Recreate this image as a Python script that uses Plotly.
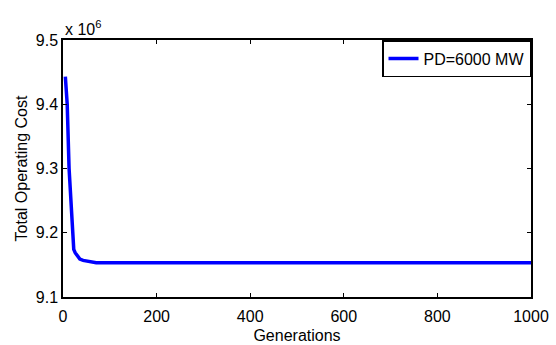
import plotly.graph_objects as go

generations = [5, 9, 13, 20, 23, 26, 29, 33, 36, 43, 52, 61, 71, 100, 200, 400, 600, 800, 1000]
cost = [9.443e6, 9.40e6, 9.30e6, 9.20e6, 9.174e6, 9.169e6, 9.166e6, 9.162e6, 9.159e6,
        9.157e6, 9.156e6, 9.155e6, 9.1535e6, 9.1534e6, 9.1534e6, 9.1534e6, 9.1534e6, 9.1534e6, 9.1534e6]

x_ticks = [0, 200, 400, 600, 800, 1000]
y_ticks = [9.1e6, 9.2e6, 9.3e6, 9.4e6, 9.5e6]
y_tick_labels = ["9.1", "9.2", "9.3", "9.4", "9.5"]

FONT = "Liberation Sans, Arial, sans-serif"
FS = 16

fig = go.Figure()
fig.add_trace(go.Scatter(x=generations, y=cost, mode="lines", name="PD=6000 MW",
                         line=dict(color="#0000ff", width=3.5)))

fig.update_layout(
    width=556, height=345,
    margin=dict(l=63, r=25, t=40, b=48),
    paper_bgcolor="white", plot_bgcolor="white",
    font=dict(family=FONT, size=FS, color="black"),
    showlegend=True,
    legend=dict(x=1, y=1, xanchor="right", yanchor="top",
                bgcolor="white", bordercolor="black", borderwidth=1.5,
                font=dict(family=FONT, size=FS, color="black"),
                itemwidth=30),
    xaxis=dict(range=[0, 1000], tickvals=x_ticks, ticks="inside", ticklen=4,
               tickcolor="black", showline=True, linecolor="black", linewidth=1.5,
               mirror="ticks", showgrid=False, zeroline=False, automargin=False,
               ticklabelstandoff=4,
               tickfont=dict(family=FONT, size=FS),
               title=dict(text="Generations", standoff=6,
                          font=dict(family=FONT, size=FS))),
    yaxis=dict(range=[9.1e6, 9.5e6], tickvals=y_ticks, ticktext=y_tick_labels,
               ticks="inside", ticklen=4, tickcolor="black", showline=True,
               linecolor="black", linewidth=1.5, mirror="ticks", showgrid=False,
               zeroline=False, automargin=False, tickfont=dict(family=FONT, size=FS),
               title=dict(text="Total Operating Cost", standoff=4,
                          font=dict(family=FONT, size=FS))),
)

fig.add_annotation(xref="paper", yref="paper", x=0, y=1, xanchor="left", yanchor="bottom",
                   text="x 10<sup>6</sup>", showarrow=False, yshift=0,
                   font=dict(family=FONT, size=FS, color="black"))

fig.write_html(
    "out.html",
    config={"displayModeBar": False},
    post_script="document.body.style.margin='0';document.body.style.padding='0';"
                "document.body.style.overflow='hidden';",
)
